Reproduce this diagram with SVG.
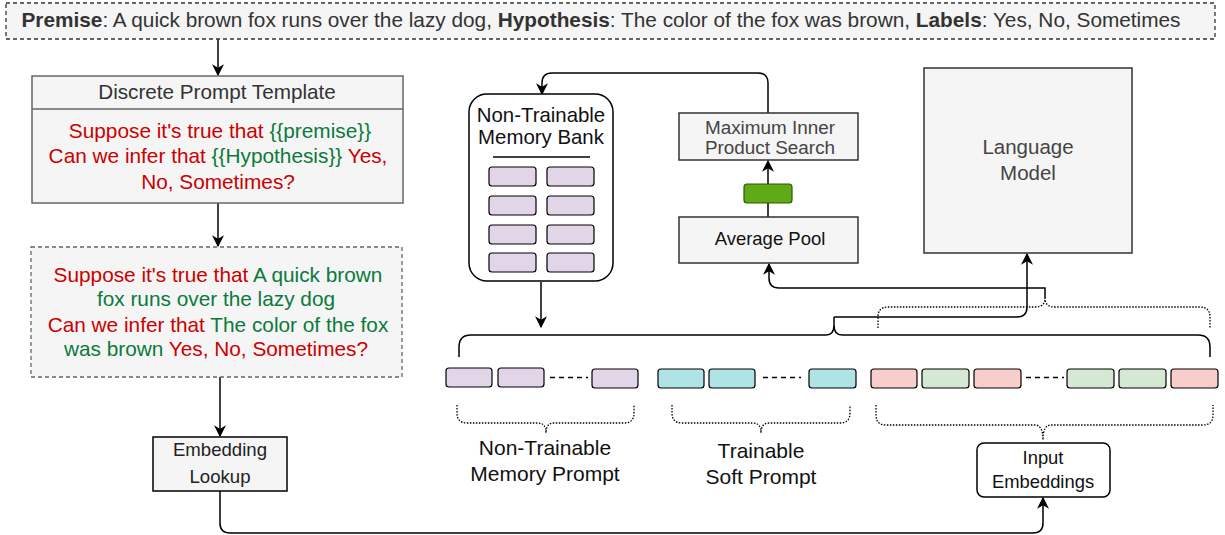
<svg xmlns="http://www.w3.org/2000/svg" width="1225" height="535" viewBox="0 0 1225 535">
<defs>
<marker id="arr" viewBox="0 0 10 10" refX="9" refY="5" markerWidth="12" markerHeight="12" markerUnits="userSpaceOnUse" orient="auto">
<path d="M0,0 L10,5 L0,10 L3,5 Z" fill="#000"/>
</marker>
<style>
text{font-family:"Liberation Sans",Arial,sans-serif;text-anchor:middle}
.box{fill:#f5f5f5;stroke:#333;stroke-width:1.5}
.gbox{fill:#f5f5f5;stroke:#666;stroke-width:1.5}
.con{fill:none;stroke:#000;stroke-width:1.5}
.dot{fill:none;stroke:#000;stroke-width:1.3;stroke-dasharray:1.5 1.5}
.tok{stroke:#000;stroke-width:1.2}
.mem{fill:#e1d5e7}
.cy{fill:#b0e3e6}
.rd{fill:#f8cecc}
.gr{fill:#d5e8d4}
.red{fill:#cc0000}
.grn{fill:#0a7a3c}
</style>
</defs>

<g id="connectors">
<path class="con" d="M218,39 V75" marker-end="url(#arr)"/>
<path class="con" d="M218,203 V246" marker-end="url(#arr)"/>
<path class="con" d="M220,377 V436" marker-end="url(#arr)"/>
<path class="con" d="M220,491 V523 Q220,533 230,533 H1033 Q1043,533 1043,523 V498" marker-end="url(#arr)"/>
<path class="con" d="M768,113 V83 Q768,73 758,73 H552 Q542,73 542,83 V94" marker-end="url(#arr)"/>
<path class="con" d="M768,217 V161" marker-end="url(#arr)"/>
<path class="con" d="M541,282 V327" marker-end="url(#arr)"/>
<path class="con" d="M1045,298 V288 H779 Q769,288 769,278 V264" marker-end="url(#arr)"/>
<path class="con" d="M834,317 H1017 Q1027,317 1027,307 V254" marker-end="url(#arr)"/>
<path class="con" d="M459,357 V347 Q459,335 471,335 H826 Q834,335 834,325 V317 M834,325 Q834,335 842,335 H1198 Q1210,335 1210,347 V357"/>
<path class="dot" d="M878,328 V317 Q878,307 888,307 H1035 Q1045,307 1045,298 Q1045,307 1055,307 H1200 Q1210,307 1210,317 V328"/>
<path class="dot" d="M457,405 V413 Q457,423 467,423 H538 Q546,423 546,433 Q546,423 554,423 H624 Q634,423 634,413 V405"/>
<path class="dot" d="M672,405 V413 Q672,423 682,423 H753 Q761,423 761,433 Q761,423 769,423 H840 Q850,423 850,413 V405"/>
<path class="dot" d="M876,405 V415 Q876,425 886,425 H1035 Q1043,425 1043,440 Q1043,425 1051,425 H1203 Q1213,425 1213,415 V405"/>
</g>

<g id="input-header">
<rect x="6" y="3" width="1209" height="36" fill="#f5f5f5" stroke="#333" stroke-width="1.3" stroke-dasharray="4 3"/>
<text x="601" y="27" font-size="20.8" fill="#333"><tspan font-weight="bold">Premise</tspan>: A quick brown fox runs over the lazy dog, <tspan font-weight="bold">Hypothesis</tspan>: The color of the fox was brown, <tspan font-weight="bold">Labels</tspan>: Yes, No, Sometimes</text>
</g>

<g id="discrete-template">
<rect class="gbox" x="32" y="76" width="371" height="127"/>
<line x1="32" y1="109" x2="403" y2="109" stroke="#666" stroke-width="1.5"/>
<text x="217" y="99" font-size="20.7" fill="#333">Discrete Prompt Template</text>
<text x="220" y="138" font-size="20.8"><tspan class="red">Suppose it's true that </tspan><tspan class="grn">{{premise}}</tspan></text>
<text x="218" y="163" font-size="20.8"><tspan class="red">Can we infer that </tspan><tspan class="grn">{{Hypothesis}}</tspan><tspan class="red"> Yes,</tspan></text>
<text x="218" y="189" font-size="20.8" class="red">No, Sometimes?</text>
</g>

<g id="filled-prompt">
<rect x="31" y="247" width="371" height="130" fill="#f5f5f5" stroke="#666" stroke-width="1.3" stroke-dasharray="4 3"/>
<text x="218" y="282" font-size="20.8"><tspan class="red">Suppose it's true that </tspan><tspan class="grn">A quick brown</tspan></text>
<text x="216" y="306" font-size="20.8" class="grn">fox runs over the lazy dog</text>
<text x="218" y="332" font-size="20.8"><tspan class="red">Can we infer that </tspan><tspan class="grn">The color of the fox</tspan></text>
<text x="216" y="356" font-size="20.8"><tspan class="grn">was brown </tspan><tspan class="red">Yes, No, Sometimes?</tspan></text>
</g>

<g id="embedding-lookup">
<rect x="153" y="437" width="134" height="54" fill="#f5f5f5" stroke="#000" stroke-width="1.5"/>
<text x="220" y="456" font-size="18.6" fill="#222">Embedding</text>
<text x="220" y="483" font-size="18.6" fill="#222">Lookup</text>
</g>

<g id="memory-bank">
<rect x="469" y="94" width="144" height="187" rx="18" fill="#fff" stroke="#000" stroke-width="1.5"/>
<text x="541" y="122" font-size="20.4" fill="#111">Non-Trainable</text>
<text x="541" y="144" font-size="20.4" fill="#111">Memory Bank</text>
<line x1="493" y1="157" x2="590" y2="157" stroke="#000" stroke-width="1.5"/>
<rect class="tok mem" x="489" y="167" width="47" height="19" rx="3"/>
<rect class="tok mem" x="547" y="167" width="47" height="19" rx="3"/>
<rect class="tok mem" x="489" y="196" width="47" height="19" rx="3"/>
<rect class="tok mem" x="547" y="196" width="47" height="19" rx="3"/>
<rect class="tok mem" x="489" y="225" width="47" height="19" rx="3"/>
<rect class="tok mem" x="547" y="225" width="47" height="19" rx="3"/>
<rect class="tok mem" x="489" y="253" width="47" height="19" rx="3"/>
<rect class="tok mem" x="547" y="253" width="47" height="19" rx="3"/>
</g>

<g id="mips">
<rect class="box" x="679" y="113" width="179" height="47"/>
<text x="770" y="134" font-size="18.9" fill="#444">Maximum Inner</text>
<text x="770" y="154" font-size="18.9" fill="#444">Product Search</text>
</g>

<g id="pooled-vector">
<rect x="744" y="184" width="48" height="19" rx="3" fill="#60a917" stroke="#2d5a00" stroke-width="1.2"/>
</g>

<g id="average-pool">
<rect class="box" x="679" y="217" width="179" height="46"/>
<text x="770" y="245" font-size="18.5" fill="#111">Average Pool</text>
</g>

<g id="language-model">
<rect class="box" x="924" y="68" width="208" height="185"/>
<text x="1028" y="154" font-size="20.5" fill="#444">Language</text>
<text x="1028" y="180" font-size="20.5" fill="#444">Model</text>
</g>

<g id="memory-prompt-tokens">
<rect class="tok mem" x="446" y="368" width="46" height="19" rx="3"/>
<rect class="tok mem" x="498" y="368" width="46" height="19" rx="3"/>
<line x1="550" y1="377.5" x2="588" y2="377.5" stroke="#000" stroke-width="1.3" stroke-dasharray="5 4"/>
<rect class="tok mem" x="592" y="369" width="46" height="19" rx="3"/>
</g>

<g id="soft-prompt-tokens">
<rect class="tok cy" x="658" y="369" width="46" height="19" rx="3"/>
<rect class="tok cy" x="709" y="369" width="46" height="19" rx="3"/>
<line x1="763" y1="377.5" x2="801" y2="377.5" stroke="#000" stroke-width="1.3" stroke-dasharray="5 4"/>
<rect class="tok cy" x="809" y="369" width="47" height="19" rx="3"/>
</g>

<g id="input-tokens">
<rect class="tok rd" x="871" y="369" width="46" height="19" rx="3"/>
<rect class="tok gr" x="922" y="369" width="47" height="19" rx="3"/>
<rect class="tok rd" x="974" y="369" width="47" height="19" rx="3"/>
<line x1="1026" y1="377.5" x2="1064" y2="377.5" stroke="#000" stroke-width="1.3" stroke-dasharray="5 4"/>
<rect class="tok gr" x="1067" y="369" width="47" height="19" rx="3"/>
<rect class="tok gr" x="1119" y="369" width="47" height="19" rx="3"/>
<rect class="tok rd" x="1171" y="369" width="47" height="19" rx="3"/>
</g>

<g id="label-memory-prompt">
<text x="545" y="455" font-size="21" fill="#111">Non-Trainable</text>
<text x="545" y="481" font-size="21" fill="#111">Memory Prompt</text>
</g>

<g id="label-soft-prompt">
<text x="761" y="458" font-size="21" fill="#111">Trainable</text>
<text x="761" y="484" font-size="21" fill="#111">Soft Prompt</text>
</g>

<g id="input-embeddings">
<rect x="977" y="443" width="133" height="54" rx="7" fill="#fff" stroke="#000" stroke-width="1.5"/>
<text x="1043" y="464" font-size="18.4" fill="#111">Input</text>
<text x="1043" y="488" font-size="18.4" fill="#111">Embeddings</text>
</g>
</svg>
